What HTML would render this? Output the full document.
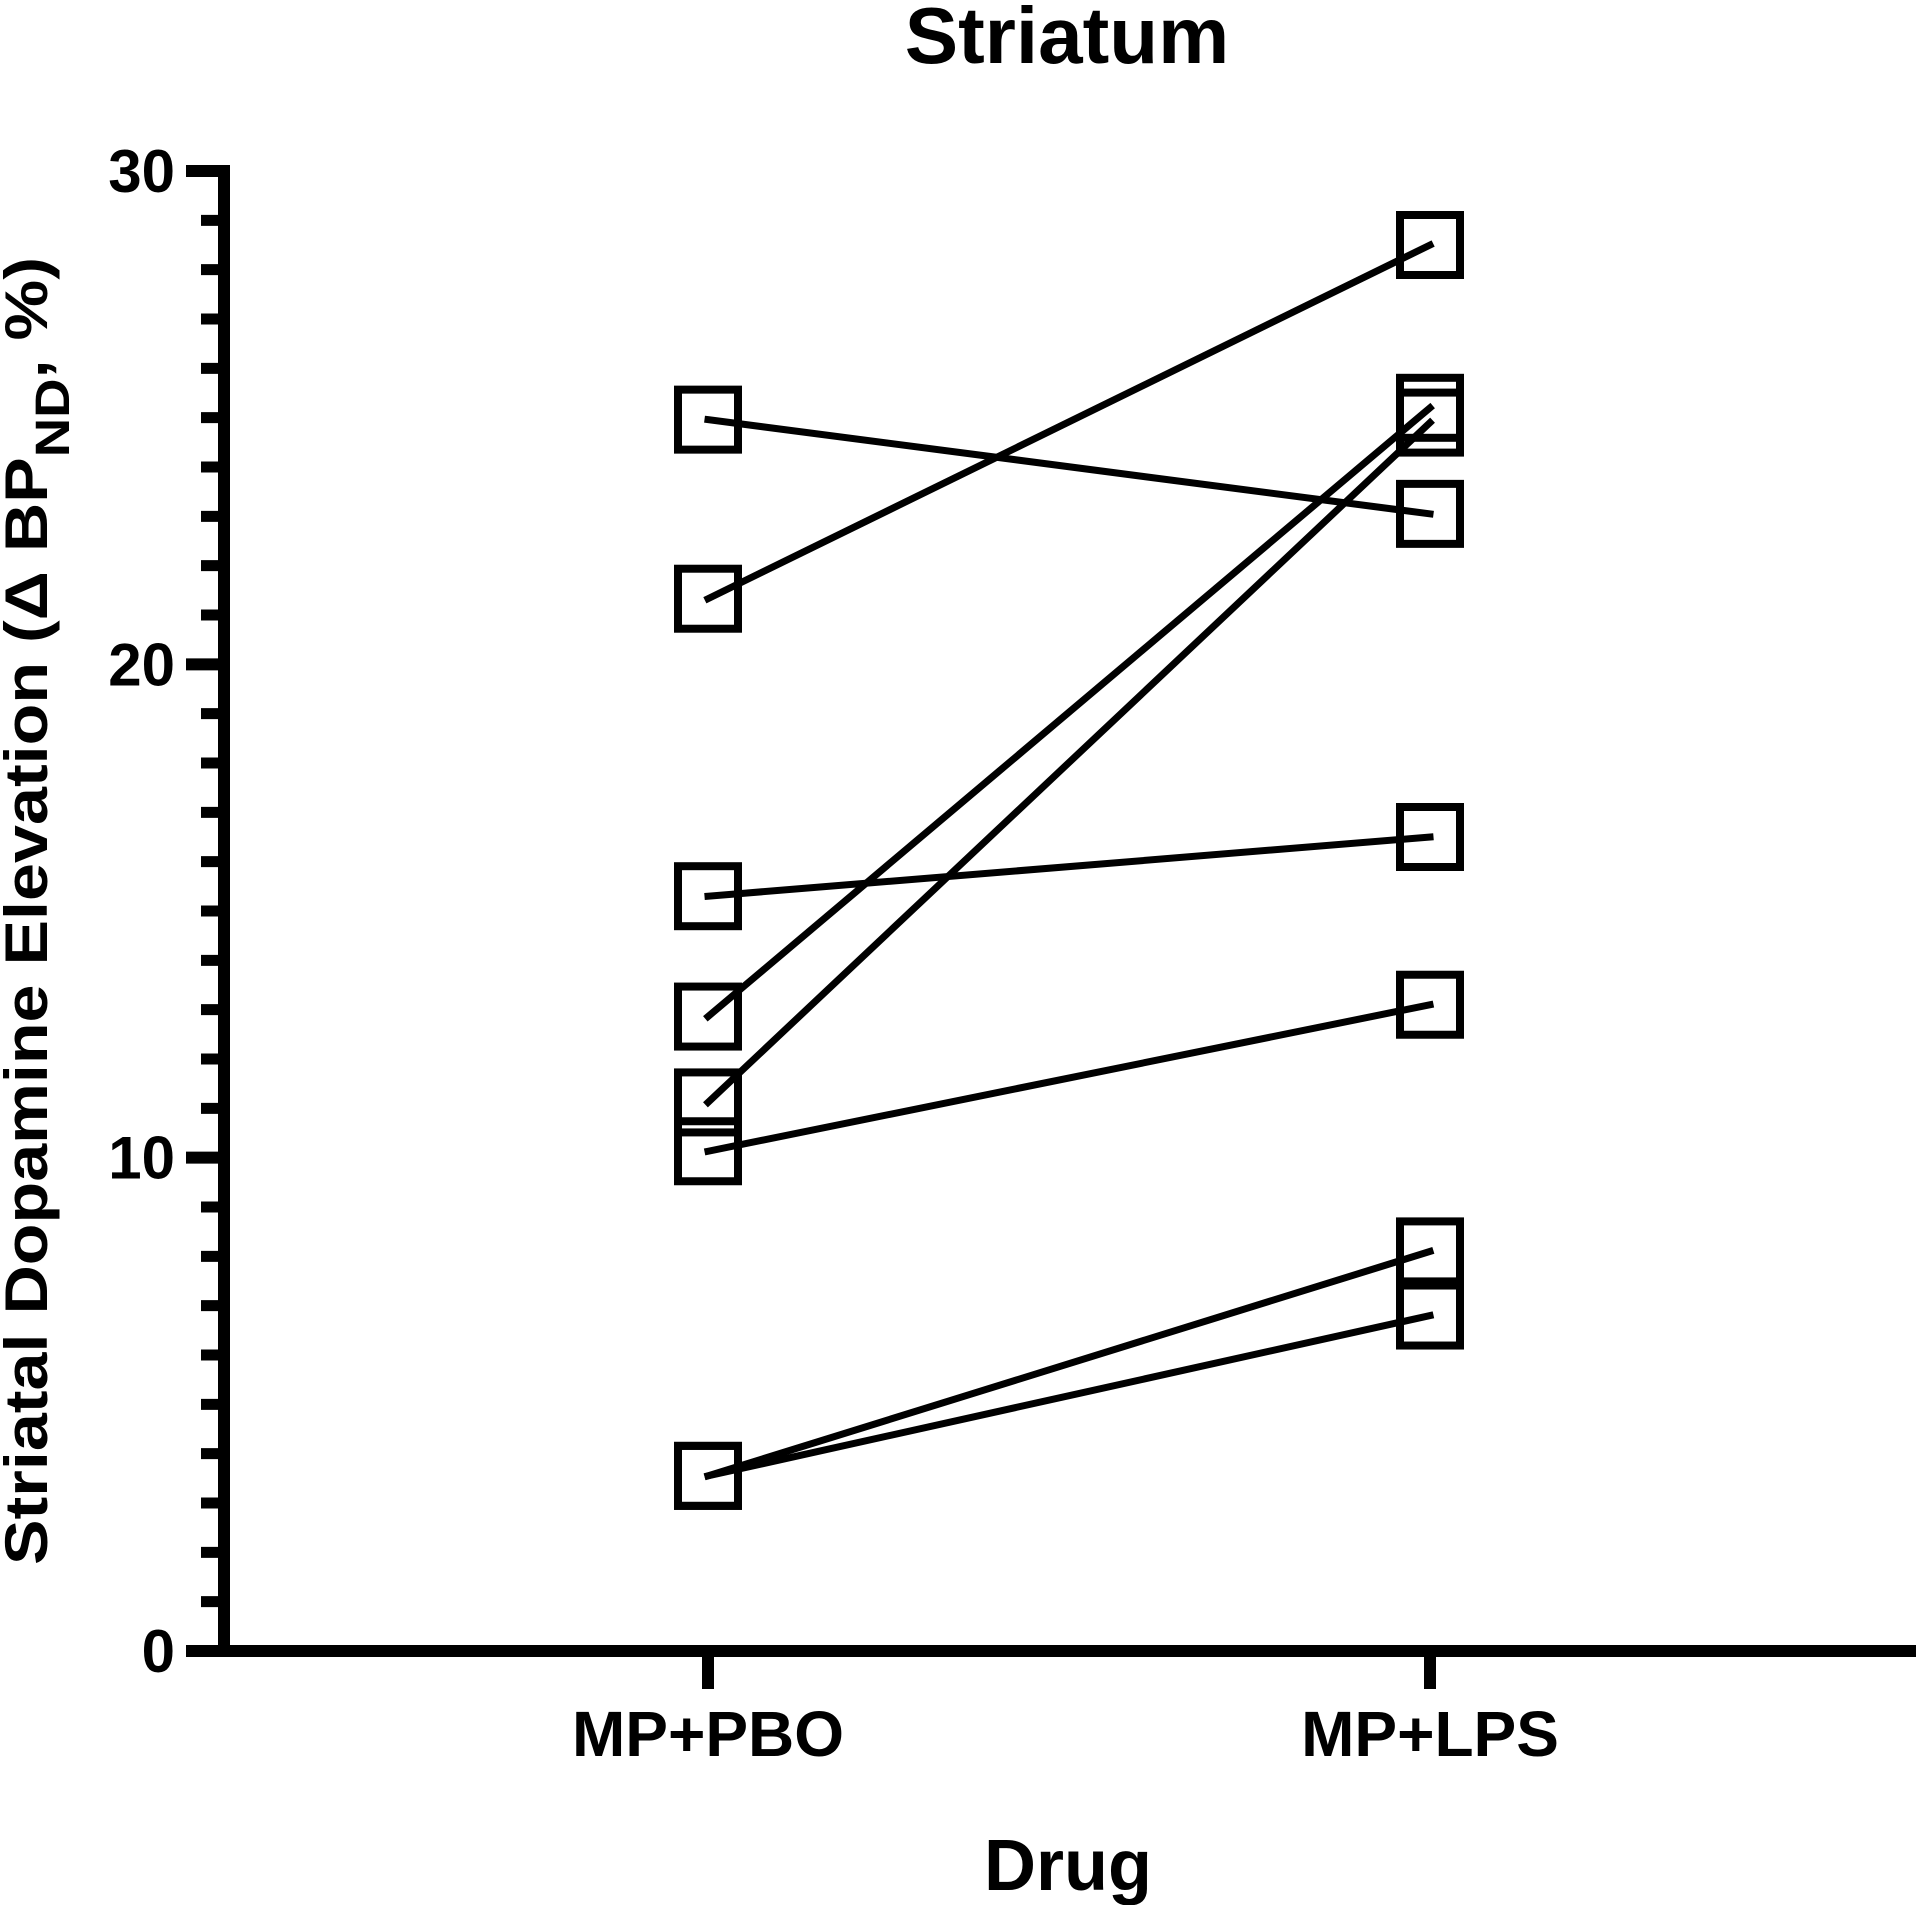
<!DOCTYPE html>
<html>
<head>
<meta charset="utf-8">
<style>
  html, body { margin: 0; padding: 0; background: #fff; }
  svg { display: block; }
  text { font-family: "Liberation Sans", Arial, sans-serif; font-weight: bold; fill: #000; }
</style>
</head>
<body>
<svg id="chart" width="1920" height="1905" viewBox="0 0 1920 1905">
  <text x="1067" y="63" font-size="80" text-anchor="middle">Striatum</text>
  <text transform="translate(47,911) rotate(-90)" font-size="60" text-anchor="middle" textLength="1308" lengthAdjust="spacingAndGlyphs">Striatal Dopamine Elevation (Δ BP<tspan font-size="48" dy="22">ND</tspan><tspan dy="-22">, %)</tspan></text>
  <text x="1068" y="1890" font-size="72" text-anchor="middle">Drug</text>
  <g id="axes"></g>
  <g id="series"></g>
  <g id="markers"></g>
</svg>
<script>
const categories = ["MP+PBO", "MP+LPS"];
const pboValues = [24.96, 21.33, 15.3, 12.86, 11.12, 10.13, 3.55, 3.55];
const lpsValues = [23.05, 28.5, 16.5, 25.2, 24.9, 13.1, 8.1, 6.8];
const yMajorTicks = [0, 10, 20, 30];
const yTickLabels = ["0", "10", "20", "30"];
const yMin = 0, yMax = 30;

const NS = "http://www.w3.org/2000/svg";
const plot = { x0: 224, xEnd: 1916, yTop: 171, yBottom: 1651 };
const catX = [708, 1430];
function yScale(v) { return plot.yBottom - (v - yMin) / (yMax - yMin) * (plot.yBottom - plot.yTop); }
function xScale(i) { return catX[i]; }
function mk(tag, attrs, parent) {
  const el = document.createElementNS(NS, tag);
  for (const k in attrs) el.setAttribute(k, attrs[k]);
  parent.appendChild(el);
  return el;
}
const axes = document.getElementById("axes");
const series = document.getElementById("series");
const markers = document.getElementById("markers");

let el = mk("line", { x1: plot.x0, y1: plot.yTop - 6, x2: plot.x0, y2: plot.yBottom + 6, stroke: "#000", "stroke-width": 12 }, axes);


el = mk("line", { x1: plot.x0 - 38, y1: plot.yBottom, x2: plot.xEnd, y2: plot.yBottom, stroke: "#000", "stroke-width": 12 }, axes);



for (let v = yMin + 1; v < yMax; v++) {
  if (v % 10 === 0) continue;
  const t = mk("line", { x1: 201, y1: yScale(v), x2: plot.x0, y2: yScale(v), stroke: "#000", "stroke-width": 11 }, axes);
  
  
}
yMajorTicks.forEach((v, i) => {
  const t = mk("line", { x1: 186, y1: yScale(v), x2: plot.x0, y2: yScale(v), stroke: "#000", "stroke-width": 12 }, axes);
  
  
  const lb = mk("text", { x: 175, y: yScale(v) + 21, "font-size": 60, "text-anchor": "end" }, axes);
  lb.textContent = yTickLabels[i];
  
  
});
categories.forEach((c, i) => {
  const t = mk("line", { x1: xScale(i), y1: plot.yBottom, x2: xScale(i), y2: 1689, stroke: "#000", "stroke-width": 12 }, axes);
  
  
  const lb = mk("text", { x: xScale(i), y: 1756, "font-size": 64, "text-anchor": "middle" }, axes);
  lb.textContent = c;
  
  
});

const S = 60;
function square(i, v) {
  const r = mk("rect", { x: xScale(i) - S / 2, y: yScale(v) - S / 2, width: S, height: S, fill: "none", stroke: "#000", "stroke-width": 8 }, markers);
  
  
}
pboValues.forEach((v, k) => {
  square(0, v);
  square(1, lpsValues[k]);
  const ln = mk("line", { x1: xScale(0), y1: yScale(v), x2: xScale(1), y2: yScale(lpsValues[k]), stroke: "#000", "stroke-width": 7, "stroke-linecap": "square" }, series);
  
  
});
document.getElementById("chart").appendChild(series);
</script>
</body>
</html>
